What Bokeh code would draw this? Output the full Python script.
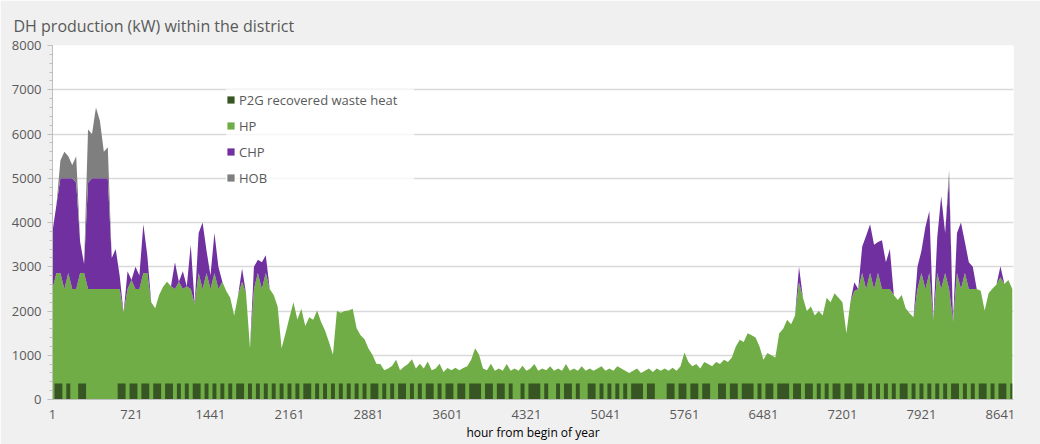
from bokeh.plotting import figure
from bokeh.models import ColumnDataSource, Range1d, FixedTicker, Legend, LegendItem
from bokeh.transform import stack
from bokeh.embed import file_html
from bokeh.resources import INLINE

# hour of year of each reading (sampled every 36 h)
hours = list(range(1, 8761, 36))

p2g = [
    0, 360, 360, 0, 360, 0, 0, 360, 360, 0,
    0, 0, 0, 0, 0, 0, 0, 360, 360, 0,
    360, 360, 0, 360, 360, 0, 360, 360, 0, 360,
    360, 0, 360, 0, 360, 0, 360, 360, 0, 360,
    0, 360, 0, 360, 0, 360, 0, 360, 360, 0,
    360, 0, 360, 0, 360, 0, 360, 0, 360, 0,
    360, 0, 360, 0, 360, 360, 0, 360, 0, 360,
    0, 360, 0, 360, 0, 360, 0, 360, 0, 360,
    0, 360, 360, 0, 360, 0, 360, 0, 360, 360,
    0, 360, 0, 360, 0, 360, 360, 0, 360, 0,
    360, 360, 0, 360, 360, 0, 360, 360, 360, 0,
    360, 360, 0, 360, 360, 0, 360, 0, 0, 360,
    0, 360, 360, 360, 0, 360, 0, 0, 360, 0,
    360, 360, 0, 360, 0, 0, 360, 360, 0, 360,
    0, 360, 0, 360, 0, 360, 0, 360, 360, 360,
    0, 360, 360, 0, 0, 0, 360, 360, 0, 360,
    360, 0, 360, 360, 0, 360, 360, 0, 0, 360,
    360, 0, 360, 360, 0, 360, 360, 360, 0, 360,
    0, 360, 360, 0, 360, 360, 360, 0, 360, 360,
    0, 360, 360, 0, 360, 0, 360, 0, 360, 360,
    0, 360, 360, 0, 360, 360, 0, 360, 0, 360,
    0, 360, 0, 360, 0, 360, 360, 0, 360, 0,
    360, 0, 360, 0, 360, 0, 360, 0, 360, 360,
    0, 360, 0, 360, 0, 360, 360, 0, 360, 0,
    360, 360, 0, 360,
]

hp = [
    2500, 2500, 2500, 2500, 2500, 2500, 2500, 2500, 2500, 2500,
    2500, 2500, 2500, 2500, 2500, 2500, 2500, 2140, 1600, 2500,
    2340, 2140, 2500, 2500, 2500, 2200, 1700, 2000, 2550, 2300,
    2200, 2500, 2300, 2500, 2200, 2500, 1800, 2500, 2500, 2500,
    2500, 2500, 2500, 2300, 2450, 1940, 1900, 2000, 2300, 2400,
    800, 2500, 2500, 2500, 2500, 2500, 2000, 2100, 800, 1500,
    1500, 2200, 1450, 2050, 1300, 1500, 1800, 1650, 1750, 1200,
    1300, 650, 2000, 1600, 2000, 1650, 2050, 1250, 1450, 1000,
    1150, 650, 450, 800, 300, 700, 400, 900, 300, 380,
    800, 550, 700, 450, 700, 500, 300, 700, 450, 620,
    350, 300, 720, 300, 350, 750, 540, 800, 650, 700,
    300, 450, 650, 340, 290, 800, 290, 700, 650, 400,
    650, 340, 440, 290, 700, 300, 750, 650, 340, 650,
    440, 290, 700, 290, 750, 650, 340, 290, 700, 390,
    650, 340, 650, 390, 700, 290, 600, 290, 340, 240,
    650, 340, 260, 700, 650, 700, 290, 360, 650, 390,
    700, 850, 390, 440, 700, 490, 440, 750, 850, 440,
    540, 850, 590, 840, 1350, 940, 1140, 1090, 1400, 840,
    900, 690, 640, 950, 1140, 1240, 1440, 1700, 1540, 2290,
    2300, 1640, 1740, 1900, 1640, 1900, 1940, 2200, 2040, 1940,
    2200, 1140, 1840, 2450, 2140, 2500, 2500, 2500, 2500, 2500,
    2500, 2140, 2500, 2000, 2250, 2000, 1700, 1950, 1500, 2500,
    2500, 2500, 2500, 1800, 2500, 2500, 2500, 2500, 1400, 2500,
    2500, 2500, 2500, 2140, 2500, 2100, 1650, 2400, 2150, 2600,
    2400, 2250, 2700, 2140,
]

chp = [
    1300, 1540, 2140, 2500, 2140, 2500, 2400, 700, 200, 2400,
    2500, 2500, 2500, 2500, 2500, 700, 900, 300, 0, 400,
    0, 500, 300, 1100, 400, 0, 0, 0, 0, 0,
    0, 600, 0, 400, 0, 1000, 0, 900, 1500, 500,
    300, 900, 500, 0, 0, 0, 0, 0, 300, 0,
    0, 500, 300, 600, 400, 0, 0, 0, 0, 0,
    0, 0, 0, 0, 0, 0, 0, 0, 0, 0,
    0, 0, 0, 0, 0, 0, 0, 0, 0, 0,
    0, 0, 0, 0, 0, 0, 0, 0, 0, 0,
    0, 0, 0, 0, 0, 0, 0, 0, 0, 0,
    0, 0, 0, 0, 0, 0, 0, 0, 0, 0,
    0, 0, 0, 0, 0, 0, 0, 0, 0, 0,
    0, 0, 0, 0, 0, 0, 0, 0, 0, 0,
    0, 0, 0, 0, 0, 0, 0, 0, 0, 0,
    0, 0, 0, 0, 0, 0, 0, 0, 0, 0,
    0, 0, 0, 0, 0, 0, 0, 0, 0, 0,
    0, 0, 0, 0, 0, 0, 0, 0, 0, 0,
    0, 0, 0, 0, 0, 0, 0, 0, 0, 0,
    0, 0, 0, 0, 0, 0, 0, 0, 0, 350,
    0, 0, 0, 0, 0, 0, 0, 0, 0, 0,
    0, 0, 0, 200, 0, 600, 1200, 1100, 1000, 700,
    1100, 600, 900, 0, 0, 0, 0, 0, 0, 500,
    500, 1400, 1400, 0, 800, 2100, 900, 2500, 0, 900,
    1500, 700, 600, 500, 0, 0, 0, 0, 0, 0,
    250, 0, 0, 0,
]

hob = [
    0, 0, 400, 600, 500, 300, 600, 0, 0, 1200,
    1000, 1600, 1300, 600, 700, 0, 0, 0, 0, 0,
    0, 0, 0, 0, 0, 0, 0, 0, 0, 0,
    0, 0, 0, 0, 0, 0, 0, 0, 0, 0,
    0, 0, 0, 0, 0, 0, 0, 0, 0, 0,
    0, 0, 0, 0, 0, 0, 0, 0, 0, 0,
    0, 0, 0, 0, 0, 0, 0, 0, 0, 0,
    0, 0, 0, 0, 0, 0, 0, 0, 0, 0,
    0, 0, 0, 0, 0, 0, 0, 0, 0, 0,
    0, 0, 0, 0, 0, 0, 0, 0, 0, 0,
    0, 0, 0, 0, 0, 0, 0, 0, 0, 0,
    0, 0, 0, 0, 0, 0, 0, 0, 0, 0,
    0, 0, 0, 0, 0, 0, 0, 0, 0, 0,
    0, 0, 0, 0, 0, 0, 0, 0, 0, 0,
    0, 0, 0, 0, 0, 0, 0, 0, 0, 0,
    0, 0, 0, 0, 0, 0, 0, 0, 0, 0,
    0, 0, 0, 0, 0, 0, 0, 0, 0, 0,
    0, 0, 0, 0, 0, 0, 0, 0, 0, 0,
    0, 0, 0, 0, 0, 0, 0, 0, 0, 0,
    0, 0, 0, 0, 0, 0, 0, 0, 0, 0,
    0, 0, 0, 0, 0, 0, 0, 0, 0, 0,
    0, 0, 0, 0, 0, 0, 0, 0, 0, 0,
    0, 0, 0, 0, 0, 0, 0, 200, 0, 0,
    0, 0, 0, 0, 0, 0, 0, 0, 0, 0,
    0, 0, 0, 0,
]

series_labels = ["P2G recovered waste heat", "HP", "CHP", "HOB"]
series_colors = ["#375623", "#70ad47", "#7030a0", "#7f7f7f"]
x_tick_labels = [1, 721, 1441, 2161, 2881, 3601, 4321, 5041, 5761, 6481, 7201, 7921, 8641]
y_tick_labels = [0, 1000, 2000, 3000, 4000, 5000, 6000, 7000, 8000]
y_minor = list(range(0, 8001, 200))

FONT = "Open Sans"
GREY_TXT = "#595959"

src = ColumnDataSource(dict(hour=hours, p2g=p2g, hp=hp, chp=chp, hob=hob))

p = figure(width=1040, height=444, output_backend="svg", toolbar_location=None,
           x_range=Range1d(1, 8760), y_range=Range1d(0, 8000),
           min_border_left=52, min_border_right=27, min_border_top=45, min_border_bottom=45)

# stacked: P2G (bottom), HP, CHP, HOB
r_hp = p.varea(x="hour", y1=0, y2=stack("p2g", "hp"), source=src, fill_color=series_colors[1])
r_p2g = p.varea_step(x="hour", y1=0, y2=stack("p2g"), step_mode="center", source=src,
                     fill_color=series_colors[0])
r_chp = p.varea(x="hour", y1=stack("p2g", "hp"), y2=stack("p2g", "hp", "chp"), source=src,
                fill_color=series_colors[2])
r_hob = p.varea(x="hour", y1=stack("p2g", "hp", "chp"), y2=stack("p2g", "hp", "chp", "hob"),
                source=src, fill_color=series_colors[3])
rs = [r_p2g, r_hp, r_chp, r_hob]

legend = Legend(items=[LegendItem(label=l, renderers=[r]) for l, r in zip(series_labels, rs)],
                location=(174, 211), orientation="vertical",
                glyph_width=9, glyph_height=9, label_height=21, spacing=5,
                label_standoff=4, label_width=175, padding=6, margin=0,
                label_text_font=FONT, label_text_font_size="13px", label_text_color=GREY_TXT,
                background_fill_color="white", background_fill_alpha=0.75,
                border_line_color=None)
p.add_layout(legend)

p.title.text = "DH production (kW) within the district"
p.title.align = "left"
p.title.offset = -39
p.title.standoff = 18
p.title.text_font = FONT
p.title.text_font_size = "16px"
p.title.text_font_style = "normal"
p.title.text_color = GREY_TXT

p.xaxis.ticker = FixedTicker(ticks=x_tick_labels)
p.xaxis.major_tick_line_color = None
p.xaxis.minor_tick_line_color = None
p.xaxis.axis_line_color = "#bfbfbf"
p.xaxis.major_label_text_font = FONT
p.xaxis.major_label_text_font_size = "13px"
p.xaxis.major_label_text_color = GREY_TXT
p.xaxis.major_label_standoff = 4
p.xaxis.axis_label = "hour from begin of year"
p.xaxis.axis_label_text_font = FONT
p.xaxis.axis_label_text_font_size = "12px"
p.xaxis.axis_label_text_font_style = "normal"
p.xaxis.axis_label_text_color = "#000000"
p.xaxis.axis_label_standoff = 2

p.yaxis.ticker = FixedTicker(ticks=y_tick_labels, minor_ticks=y_minor)
p.yaxis.axis_line_color = "#bfbfbf"
p.yaxis.major_tick_line_color = "#bfbfbf"
p.yaxis.minor_tick_line_color = "#bfbfbf"
p.yaxis.major_tick_out = 5
p.yaxis.major_tick_in = 0
p.yaxis.minor_tick_out = 3
p.yaxis.minor_tick_in = 0
p.yaxis.major_label_text_font = FONT
p.yaxis.major_label_text_font_size = "13px"
p.yaxis.major_label_text_color = GREY_TXT
p.yaxis.major_label_standoff = 6

p.xgrid.visible = False
p.ygrid.grid_line_color = "#d9d9d9"
p.ygrid.grid_line_width = 1.5
p.outline_line_color = None
p.background_fill_color = "white"
p.border_fill_color = "#f0f0f0"

open("out.html", "w").write(file_html(p, INLINE))
